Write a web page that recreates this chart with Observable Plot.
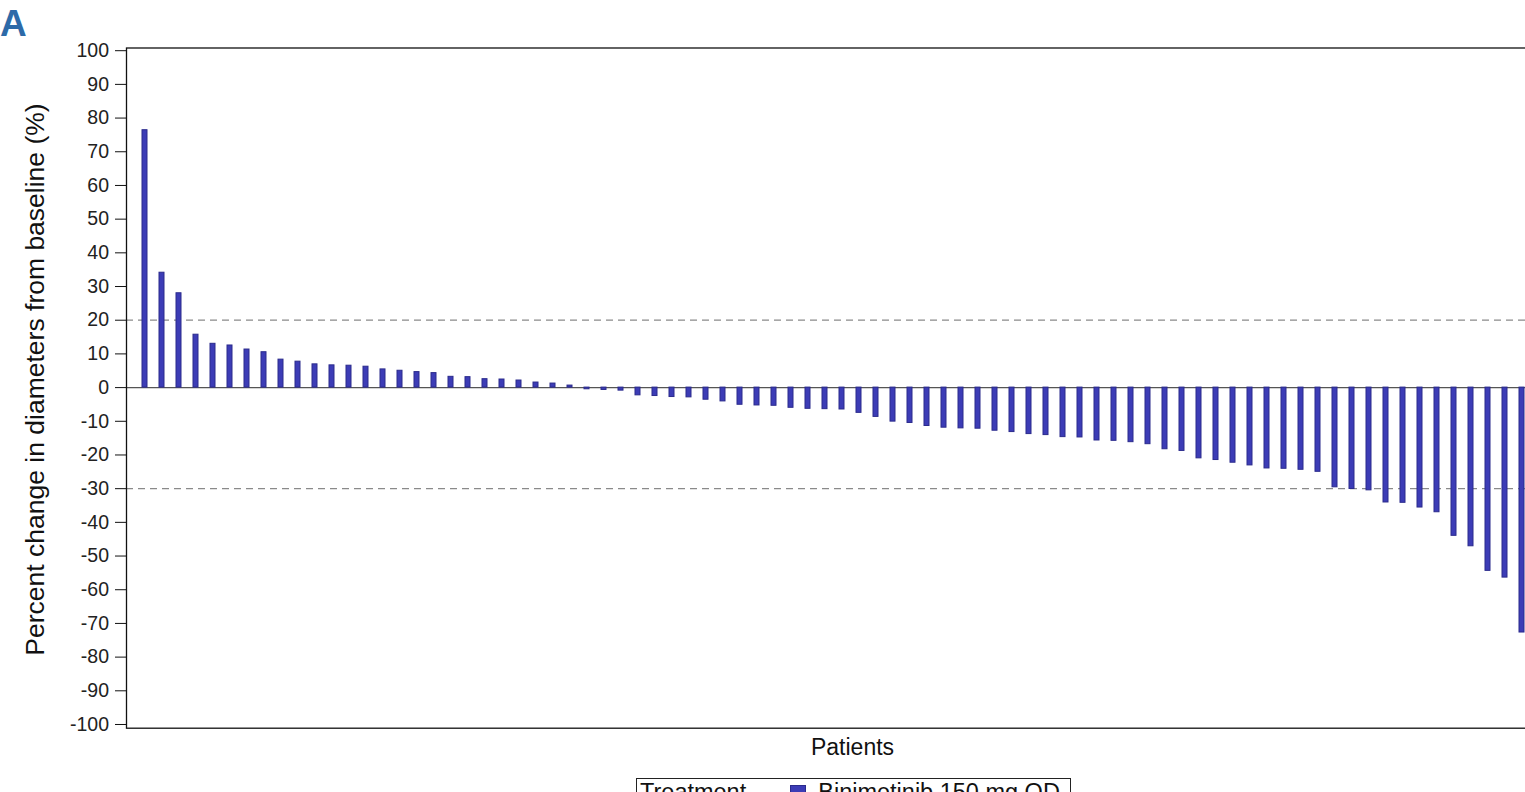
<!DOCTYPE html>
<html>
<head>
<meta charset="utf-8">
<script src="https://cdn.jsdelivr.net/npm/d3@7"></script>
<script src="https://cdn.jsdelivr.net/npm/@observablehq/plot@0.6"></script>
<style>
  html, body { margin: 0; padding: 0; background: #fff; overflow: hidden; width: 1525px; height: 792px; }
  #wrap { position: relative; width: 1590px; height: 792px; font-family: "Liberation Sans", Arial, sans-serif; }
  #panel { position: absolute; left: 0; top: 4.5px; font-size: 37px; font-weight: bold; line-height: 37px; color: #2d6aa8; }
  #chart { position: absolute; left: 0; top: 0; }
  #legend { position: absolute; left: 636px; top: 778px; border: 1.5px solid #222; padding: 0 10px 4px 3px;
            font-size: 23.5px; line-height: 26px; color: #111; white-space: nowrap; background: #fff; }
  #legend .sw { display: inline-block; width: 16px; height: 16px; background: #3c3cb6; border: 1px solid #2b2b8c;
                box-sizing: border-box; margin: 0 12px 0 44px; vertical-align: -1px; }
</style>
</head>
<body>
<div id="wrap">
  <div id="chart"></div>
  <div id="panel">A</div>
  <div id="legend"><span id="legTitle"></span><span class="sw"></span><span id="legItem"></span></div>
</div>
<script>
// Percent change in sum of diameters from baseline, one value per patient (sorted waterfall)
const changes = [
  76.4, 34.1, 28.0, 15.7, 13.0, 12.5, 11.3, 10.5, 8.3, 7.7,
  6.9, 6.6, 6.5, 6.2, 5.4, 5.0, 4.6, 4.3, 3.2, 3.1,
  2.5, 2.4, 2.1, 1.5, 1.2, 0.6, -0.5, -0.7, -0.9, -2.3,
  -2.5, -2.8, -2.9, -3.6, -4.1, -5.1, -5.3, -5.4, -6.0, -6.3,
  -6.4, -6.5, -7.5, -8.7, -10.1, -10.5, -11.4, -11.9, -12.1, -12.2,
  -12.8, -13.2, -13.8, -14.1, -14.7, -14.8, -15.7, -15.8, -16.2, -16.8,
  -18.3, -18.8, -21.0, -21.5, -22.3, -23.1, -24.0, -24.1, -24.4, -25.0,
  -29.6, -30.1, -30.5, -34.1, -34.2, -35.6, -37.0, -44.0, -47.1, -54.4,
  -56.4, -72.7
];
const patients = changes.map((_, i) => "Patient " + (i + 1));
const yTicks = [-100, -90, -80, -70, -60, -50, -40, -30, -20, -10, 0, 10, 20, 30, 40, 50, 60, 70, 80, 90, 100];
const referenceLines = [20, -30];
const yLabel = "Percent change in diameters from baseline (%)";
const xLabel = "Patients";
const legendTitle = "Treatment";
const legendItem = "Binimetinib 150 mg QD";

const data = patients.map((p, i) => ({patient: p, change: changes[i]}));

const chart = Plot.plot({
  width: 1590,
  height: 770,
  marginLeft: 126,
  marginRight: 12,
  marginTop: 47.5,
  marginBottom: 42.3,
  style: {fontFamily: "'Liberation Sans', Arial, sans-serif", fontSize: "19.5px", color: "#222", background: "white"},
  x: {type: "band", domain: patients, paddingInner: 0.7, paddingOuter: 1.98, align: 0.226, axis: null},
  y: {domain: [-101.1, 100.8]},
  marks: [
    Plot.ruleY(referenceLines, {stroke: "#8a8a8a", strokeWidth: 1.3, strokeDasharray: "7,5"}),
    Plot.ruleY([0], {stroke: "#555", strokeWidth: 1.2}),
    Plot.barY(data, {x: "patient", y: "change", fill: "#3c3cb6", stroke: "#2b2b8c", strokeWidth: 1}),
    Plot.axisY(yTicks, {tickSize: 11, tickPadding: 6.5, label: null, tickFormat: d => String(d), stroke: "#111"}),
    Plot.frame({stroke: "#111", strokeWidth: 1.3}),
    Plot.text([yLabel], {text: d => d, frameAnchor: "left", rotate: -90, dx: -91, dy: -8.6, fontSize: 26.5, textAnchor: "middle", lineAnchor: "middle", fill: "#111"}),
    Plot.text([xLabel], {text: d => d, frameAnchor: "bottom", dy: 10.5, lineAnchor: "top", fontSize: 23, fill: "#111"})
  ]
});
document.getElementById("chart").appendChild(chart);
document.getElementById("legTitle").textContent = legendTitle;
document.getElementById("legItem").textContent = legendItem;
</script>
</body>
</html>
